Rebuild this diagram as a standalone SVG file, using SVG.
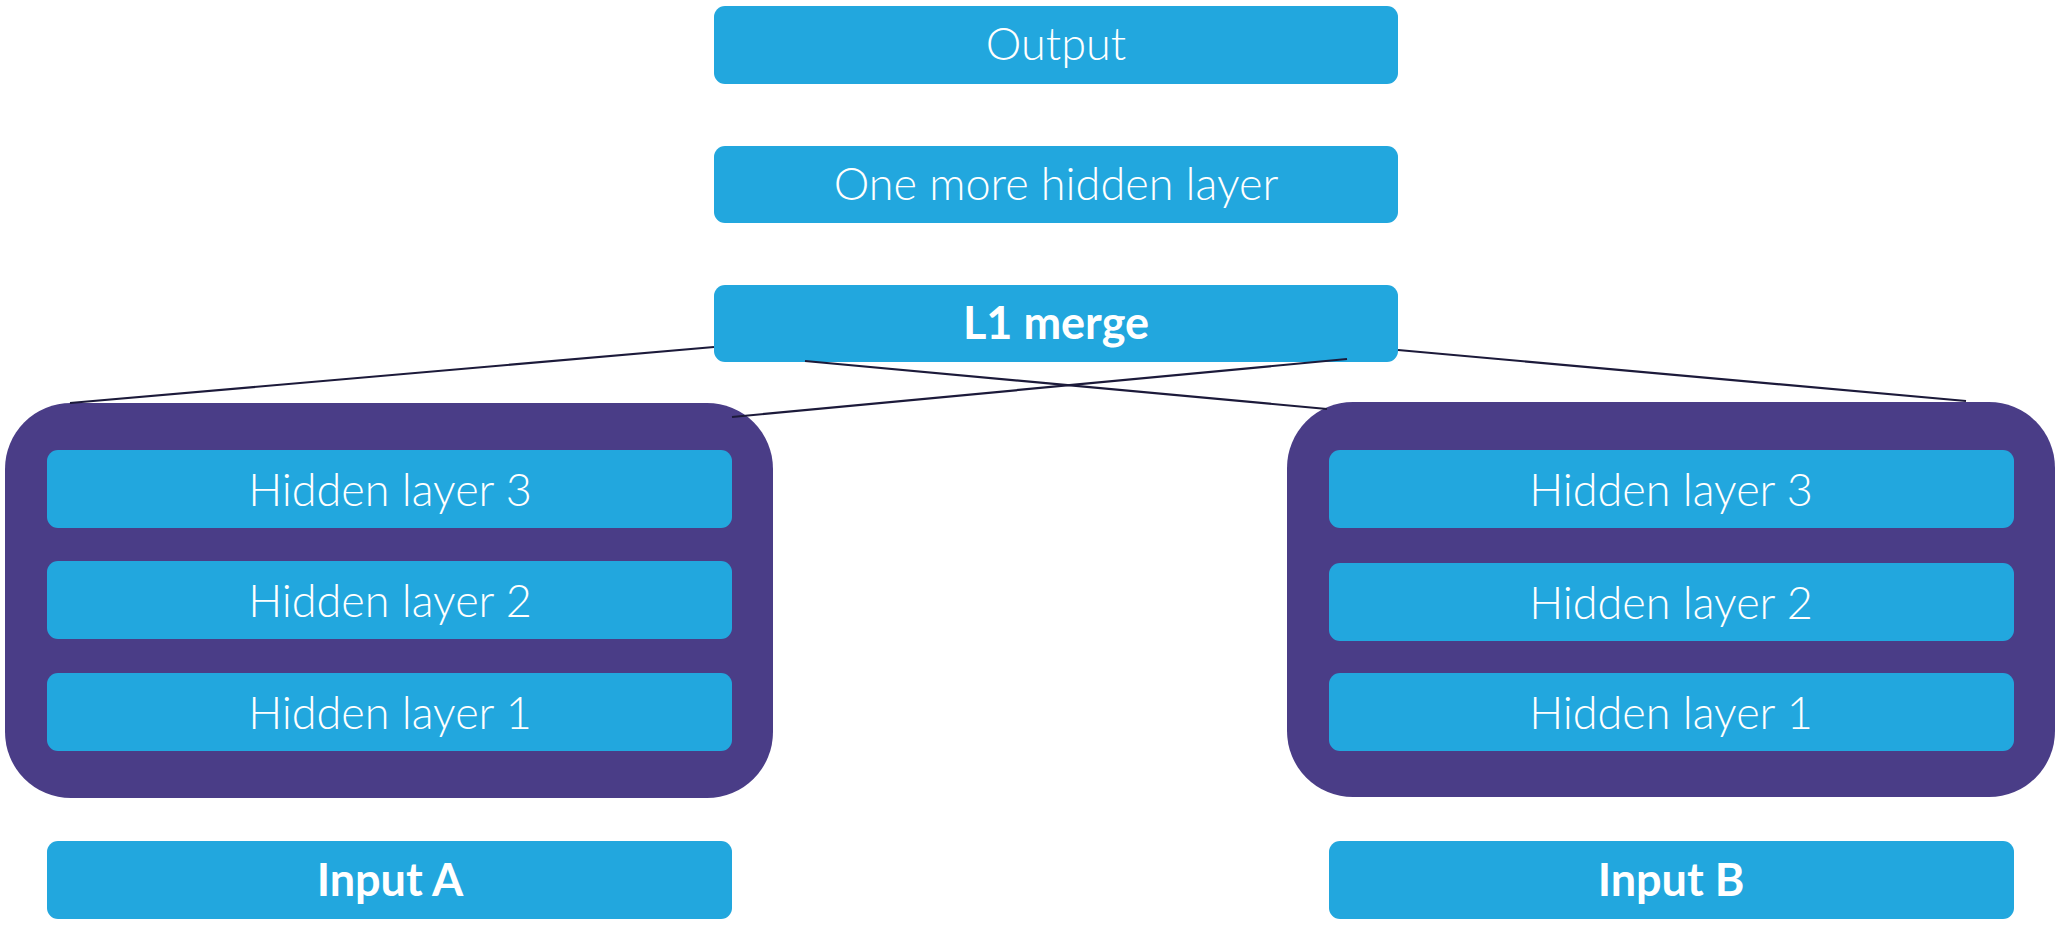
<svg xmlns="http://www.w3.org/2000/svg" width="2068" height="927" viewBox="0 0 2068 927">
  <style>
    .box { fill: #22A7DE; }
    .cont { fill: #4A3D87; }
    .t { font-family: Lato, "Open Sans", "Liberation Sans", sans-serif; font-weight: 300; font-size: 45px; fill: #FFFFFF; text-anchor: middle; }
    .b { font-weight: 700; font-size: 45px; }
    .edge { stroke: #1C1A3A; stroke-width: 2.2; fill: none; }
  </style>
  <rect width="2068" height="927" fill="#FFFFFF"/>
  <g id="output">
    <rect class="box" x="714" y="6" width="684" height="78" rx="11"/>
    <text class="t" x="1056" y="60">Output</text>
  </g>
  <g id="hidden-extra">
    <rect class="box" x="714" y="146" width="684" height="77" rx="11"/>
    <text class="t" x="1056" y="200">One more hidden layer</text>
  </g>
  <g id="l1-merge">
    <rect class="box" x="714" y="285" width="684" height="77" rx="11"/>
    <text class="t b" x="1056" y="339">L1 merge</text>
  </g>
  <g id="tower-a">
    <rect class="cont" x="5" y="403" width="768" height="395" rx="66"/>
    <g id="a-hidden3">
      <rect class="box" x="47" y="450" width="685" height="78" rx="11"/>
      <text class="t" x="390" y="506">Hidden layer 3</text>
    </g>
    <g id="a-hidden2">
      <rect class="box" x="47" y="561" width="685" height="78" rx="11"/>
      <text class="t" x="390" y="617">Hidden layer 2</text>
    </g>
    <g id="a-hidden1">
      <rect class="box" x="47" y="673" width="685" height="78" rx="11"/>
      <text class="t" x="390" y="729">Hidden layer 1</text>
    </g>
  </g>
  <g id="input-a">
    <rect class="box" x="47" y="841" width="685" height="78" rx="11"/>
    <text class="t b" x="390" y="896">Input A</text>
  </g>
  <g id="tower-b">
    <rect class="cont" x="1287" y="402" width="768" height="395" rx="66"/>
    <g id="b-hidden3">
      <rect class="box" x="1329" y="450" width="685" height="78" rx="11"/>
      <text class="t" x="1671" y="506">Hidden layer 3</text>
    </g>
    <g id="b-hidden2">
      <rect class="box" x="1329" y="563" width="685" height="78" rx="11"/>
      <text class="t" x="1671" y="619">Hidden layer 2</text>
    </g>
    <g id="b-hidden1">
      <rect class="box" x="1329" y="673" width="685" height="78" rx="11"/>
      <text class="t" x="1671" y="729">Hidden layer 1</text>
    </g>
  </g>
  <g id="input-b">
    <rect class="box" x="1329" y="841" width="685" height="78" rx="11"/>
    <text class="t b" x="1671" y="896">Input B</text>
  </g>
  <g id="connectors">
    <line class="edge" x1="714" y1="347" x2="70" y2="403"/>
    <line class="edge" x1="805" y1="361" x2="1327" y2="409"/>
    <line class="edge" x1="1347" y1="359" x2="732" y2="417"/>
    <line class="edge" x1="1398" y1="350" x2="1966" y2="401"/>
  </g>
</svg>
